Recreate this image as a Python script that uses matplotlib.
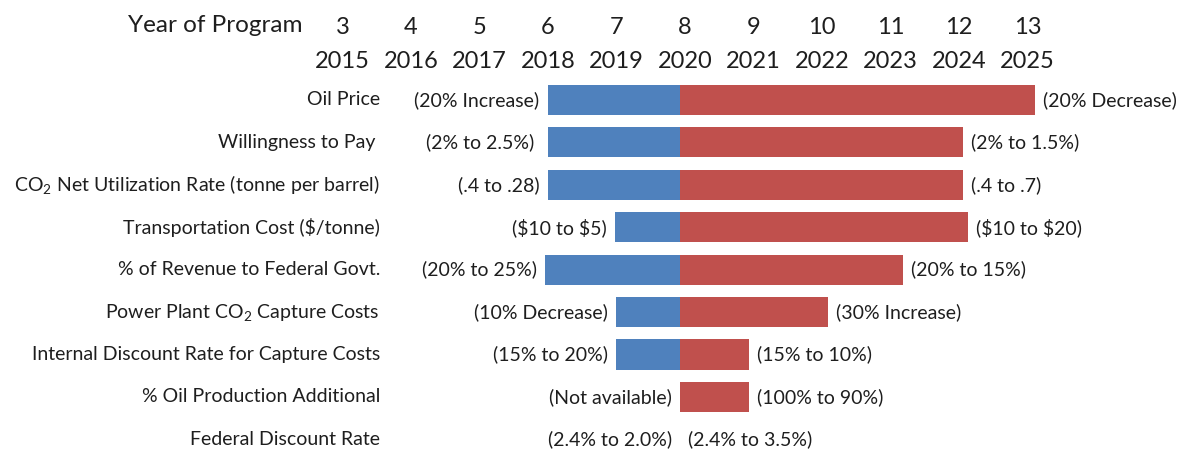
import matplotlib
matplotlib.use("Agg")
import matplotlib.pyplot as plt
import matplotlib.transforms as mtransforms

plt.rcParams['font.family'] = ['Lato', 'DejaVu Sans']
plt.rcParams['mathtext.fontset'] = 'custom'
plt.rcParams['mathtext.rm'] = 'Lato'
plt.rcParams['mathtext.it'] = 'Lato:italic'
plt.rcParams['mathtext.bf'] = 'Lato:bold'

# ---- data ----
categories = [
    "Oil Price",
    "Willingness to Pay ",
    "CO$_2$ Net Utilization Rate (tonne per barrel)",
    r"Transportation Cost (\$/tonne)",
    "% of Revenue to Federal Govt.",
    "Power Plant CO$_2$ Capture Costs",
    "Internal Discount Rate for Capture Costs",
    "% Oil Production Additional",
    "Federal Discount Rate",
]
base_year = 2020
low_year = [2018.07, 2018.07, 2018.07, 2019.05, 2018.03, 2019.07, 2019.07, 2020.0, 2020.0]
high_year = [2025.18, 2024.13, 2024.13, 2024.20, 2023.25, 2022.16, 2021.00, 2021.00, 2020.0]
low_labels = ["(20% Increase)", "(2% to 2.5%) ", "(.4 to .28)", r"(\$10 to \$5)",
              "(20% to 25%)", "(10% Decrease)", "(15% to 20%)", "(Not available)",
              "(2.4% to 2.0%)"]
high_labels = ["(20% Decrease)", "(2% to 1.5%)", "(.4 to .7)", r"(\$10 to \$20)",
               "(20% to 15%)", "(30% Increase)", "(15% to 10%)", "(100% to 90%)",
               "(2.4% to 3.5%)"]
years = list(range(2015, 2026))
program_years = list(range(3, 14))

BLUE = "#4F81BD"
RED = "#C0504D"
TXT = "#1e1e1e"

fig = plt.figure(figsize=(11.88, 4.5), dpi=100)
ax = fig.add_axes([300 / 1188, 0, 800 / 1188, 370 / 450])

ypos = list(range(len(categories)))
left_w = [base_year - l for l in low_year]
right_w = [h - base_year for h in high_year]

ax.barh(ypos, [-w for w in left_w], left=base_year, height=0.71, color=BLUE, linewidth=0)
ax.barh(ypos, right_w, left=base_year, height=0.71, color=RED, linewidth=0)

ax.set_xlim(2014.453, 2026.131)
ax.set_ylim(8.25, -0.47)

for y, l, h, ll, hl in zip(ypos, low_year, high_year, low_labels, high_labels):
    ax.annotate(ll, (l, y), xytext=(-6, 0), textcoords="offset points",
                ha="right", va="center", fontsize=14, color=TXT)
    ax.annotate(hl, (h, y), xytext=(6, 0), textcoords="offset points",
                ha="left", va="center", fontsize=14, color=TXT)

trans = mtransforms.blended_transform_factory(ax.transAxes, ax.transData)
for y, c in zip(ypos, categories):
    ax.text(0.1, y, c, transform=trans, ha="right", va="center",
            fontsize=14, color=TXT)

for s in ax.spines.values():
    s.set_visible(False)
ax.set_yticks([])
ax.xaxis.tick_top()
ax.set_xticks(years, labels=[str(y) for y in years])
ax.tick_params(axis="x", length=0, pad=5.5, labelsize=17, labelcolor=TXT)

sec = ax.secondary_xaxis(1 + 34 / 370)
sec.set_xticks(years, labels=[str(p) for p in program_years])
sec.tick_params(axis="x", length=0, pad=5.5, labelsize=17, labelcolor=TXT)
for s in sec.spines.values():
    s.set_visible(False)

shift = mtransforms.ScaledTranslation(5 / 100, 0, fig.dpi_scale_trans)
for lab in ax.get_xticklabels() + sec.get_xticklabels():
    lab.set_transform(lab.get_transform() + shift)

fig.text(303 / 1188, 1 - 25 / 450, "Year of Program", ha="right", va="center",
         fontsize=17.5, color=TXT)

fig.savefig("out.png", dpi=100, facecolor="white")
